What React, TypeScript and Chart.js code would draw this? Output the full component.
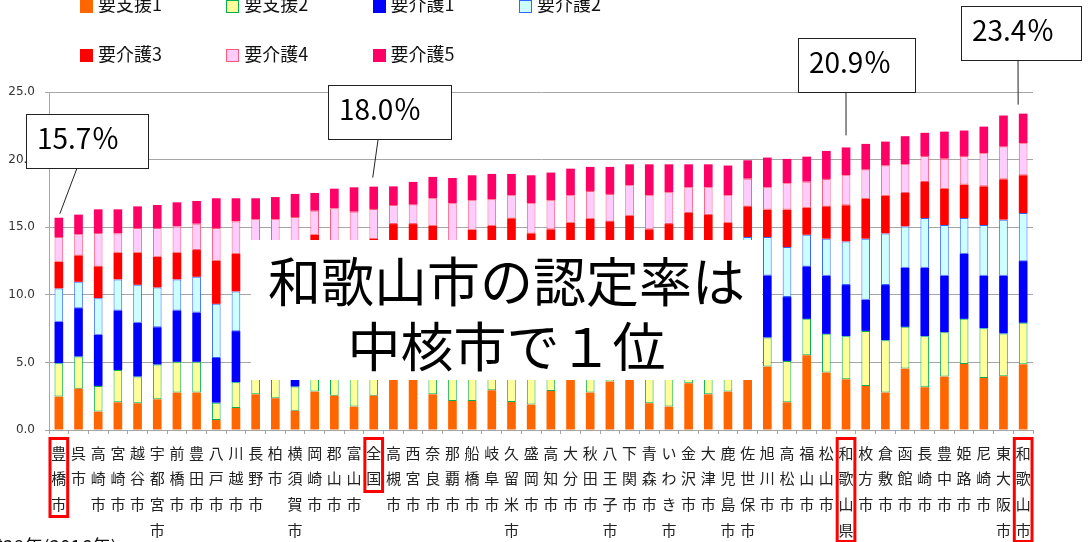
import { useEffect, useRef } from "react";
import { Chart, registerables } from "chart.js";

Chart.register(...registerables);

// 中核市等の要介護（要支援）認定率（％）
const categories: string[] = [
  "豊橋市", "呉市", "高崎市", "宮崎市", "越谷市", "宇都宮市", "前橋市", "豊田市", "八戸市", "川越市",
  "長野市", "柏市", "横須賀市", "岡崎市", "郡山市", "富山市", "全国", "高槻市", "西宮市", "奈良市",
  "那覇市", "船橋市", "岐阜市", "久留米市", "盛岡市", "高知市", "大分市", "秋田市", "八王子市", "下関市",
  "青森市", "いわき市", "金沢市", "大津市", "鹿児島市", "佐世保市", "旭川市", "高松市", "福山市", "松山市",
  "和歌山県", "枚方市", "倉敷市", "函館市", "長崎市", "豊中市", "姫路市", "尼崎市", "東大阪市", "和歌山市",
];

const youShien1: number[] = [
  2.47, 3.06, 1.36, 2.05, 1.98, 2.27, 2.77, 2.77, 0.74, 1.63,
  2.64, 2.35, 1.43, 2.84, 2.54, 1.73, 2.54, 3.90, 4.00, 2.64,
  2.15, 2.15, 2.94, 2.07, 1.88, 2.89, 3.80, 2.77, 3.58, 3.90,
  1.98, 1.73, 3.46, 2.64, 2.84, 4.00, 4.69, 2.05, 5.53, 4.25,
  3.75, 3.26, 2.77, 4.54, 3.16, 3.95, 4.89, 3.85, 3.98, 4.86,
];
const youShien2: number[] = [
  2.47, 2.37, 1.90, 2.39, 1.97, 2.57, 2.27, 2.27, 1.28, 1.90,
  2.30, 2.20, 1.78, 2.10, 2.30, 2.40, 2.50, 2.60, 2.50, 2.30,
  2.30, 2.30, 2.20, 2.60, 2.40, 2.20, 2.40, 2.30, 2.50, 2.40,
  2.40, 2.60, 2.40, 2.50, 2.60, 2.30, 2.15, 3.06, 2.69, 2.86,
  3.19, 4.07, 3.87, 3.09, 3.78, 3.28, 3.33, 3.68, 3.16, 3.07,
];
const youKaigo1: number[] = [
  3.06, 3.58, 3.78, 4.40, 3.98, 2.76, 3.80, 3.65, 3.31, 3.78,
  3.40, 3.60, 4.00, 3.50, 3.60, 3.80, 3.50, 3.00, 3.10, 3.70,
  3.90, 4.00, 3.70, 4.20, 4.10, 3.80, 3.30, 4.00, 3.40, 3.40,
  4.10, 4.30, 3.90, 4.10, 3.90, 4.00, 4.59, 4.72, 3.88, 4.30,
  3.78, 2.30, 4.08, 4.37, 5.06, 4.18, 4.82, 3.88, 4.27, 4.56,
];
const youKaigo2: number[] = [
  2.47, 1.95, 2.71, 2.30, 2.81, 2.94, 2.30, 2.64, 4.00, 2.94,
  2.60, 2.70, 3.10, 2.90, 2.80, 3.00, 3.10, 2.90, 2.90, 3.40,
  3.00, 3.20, 3.20, 3.30, 3.20, 3.10, 3.00, 3.30, 3.00, 3.00,
  3.30, 3.40, 3.10, 3.40, 3.10, 3.97, 2.84, 3.70, 2.34, 2.74,
  3.23, 4.52, 3.82, 3.06, 3.68, 3.75, 2.64, 3.75, 4.15, 3.56,
];
const youKaigo3: number[] = [
  1.97, 1.95, 2.35, 1.97, 2.37, 2.27, 1.97, 1.98, 3.19, 2.79,
  2.30, 2.40, 2.90, 3.10, 2.60, 2.90, 2.51, 2.83, 2.73, 3.07,
  2.50, 3.16, 3.07, 3.48, 2.96, 2.85, 2.83, 3.26, 2.95, 3.15,
  3.06, 3.20, 3.19, 3.29, 2.89, 2.27, 2.03, 2.77, 2.00, 2.39,
  2.67, 2.96, 2.79, 2.47, 2.67, 2.69, 2.47, 2.86, 2.98, 2.79,
];
const youKaigo4: number[] = [
  1.83, 1.56, 2.47, 1.43, 1.83, 2.13, 1.95, 1.95, 2.42, 2.39,
  2.34, 2.33, 2.54, 1.78, 2.56, 2.32, 2.20, 1.41, 1.44, 2.03,
  2.92, 2.18, 1.95, 1.71, 2.23, 2.15, 2.03, 2.05, 2.03, 2.25,
  2.52, 2.35, 1.90, 2.02, 2.03, 2.05, 1.65, 1.95, 1.93, 2.03,
  2.22, 2.15, 2.23, 2.12, 1.92, 2.22, 2.12, 2.45, 2.42, 2.37,
];
const youKaigo5: number[] = [
  1.43, 1.46, 1.75, 1.78, 1.60, 1.70, 1.78, 1.68, 2.20, 1.71,
  1.56, 1.65, 1.71, 1.31, 1.45, 1.80, 1.65, 1.38, 1.68, 1.58,
  1.87, 1.85, 1.88, 1.58, 2.07, 2.05, 1.97, 1.78, 2.00, 1.55,
  2.29, 2.07, 1.70, 1.70, 2.20, 1.36, 2.20, 1.80, 1.85, 2.07,
  2.06, 1.90, 1.77, 2.08, 1.71, 2.00, 1.88, 1.97, 2.30, 2.19,
];

const seriesNames: string[] = ["要支援1", "要支援2", "要介護1", "要介護2", "要介護3", "要介護4", "要介護5"];
const seriesValues: number[][] = [youShien1, youShien2, youKaigo1, youKaigo2, youKaigo3, youKaigo4, youKaigo5];
const fillColors: string[] = ["#FF6600", "#FFFF99", "#0000FF", "#CCFFFF", "#FF0000", "#FFCCFF", "#FF0066"];
const edgeColors: (string | null)[] = [null, "#00B050", null, "#3366FF", null, "#FF5A78", null];

const yTickValues: number[] = [0, 5, 10, 15, 20, 25];

// labels framed in red under the axis
const framedLabels: string[] = ["豊橋市", "全国", "和歌山県", "和歌山市"];

// value callouts: [left, top, width, height] of the box and x where its leader leaves the box
const calloutNames: string[] = ["豊橋市", "全国", "和歌山県", "和歌山市"];
const calloutBoxes: number[][] = [
  [26, 114, 123, 55],
  [328, 85, 124, 55],
  [798, 38, 118, 55],
  [961, 6, 121, 55],
];
const calloutLeaderX: number[] = [76.7, 378, 846, 1018];
const calloutLeaderDx: number[] = [1, -1, 0, -5];
const calloutGap: number[] = [4, 9, 12, 9];

const totals: number[] = categories.map((_, i) =>
  seriesValues.reduce((s, arr) => s + arr[i], 0)
);

const FONT_JP = "'Noto Sans CJK JP', 'Noto Sans', sans-serif";

const annotate = {
  id: "annotate",
  afterDraw(chart: any) {
    const ctx: CanvasRenderingContext2D = chart.ctx;
    const xs = chart.scales.x;
    const ys = chart.scales.y;
    ctx.save();

    // red frames around selected category labels
    ctx.strokeStyle = "#FF0000";
    ctx.lineWidth = 3;
    framedLabels.forEach((name) => {
      const i = categories.indexOf(name);
      const cx = xs.getPixelForValue(i);
      const rows = Array.from(name).length;
      ctx.strokeRect(cx - 8.85, xs.top + 8.5, 17.7, rows * 25 + 3);
    });

    // callout boxes with leader lines to the bar tops
    calloutNames.forEach((name, k) => {
      const i = categories.indexOf(name);
      const [bx, by, bw, bh] = calloutBoxes[k];
      const tx = xs.getPixelForValue(i) + calloutLeaderDx[k];
      const ty = ys.getPixelForValue(totals[i]) - calloutGap[k];
      ctx.strokeStyle = "#222";
      ctx.lineWidth = 1;
      ctx.beginPath();
      ctx.moveTo(calloutLeaderX[k], by + bh);
      ctx.lineTo(tx, ty);
      ctx.stroke();
      ctx.fillStyle = "#FFFFFF";
      ctx.fillRect(bx, by, bw, bh);
      ctx.strokeRect(bx + 0.5, by + 0.5, bw - 1, bh - 1);
      ctx.fillStyle = "#000";
      ctx.font = `28px ${FONT_JP}`;
      ctx.textBaseline = "alphabetic";
      ctx.textAlign = "left";
      ctx.fillText(totals[i].toFixed(1) + "％", bx + 11, by + 35);
    });
    ctx.restore();
  },
};

export default function App() {
  const canvasRef = useRef<HTMLCanvasElement>(null);

  useEffect(() => {
    const datasets = seriesNames.map((name, k) => ({
      label: name,
      data: seriesValues[k],
      backgroundColor: fillColors[k],
      borderColor: edgeColors[k] ?? fillColors[k],
      borderWidth: edgeColors[k] ? 1 : 0,
      borderSkipped: false as const,
      barPercentage: 0.44,
      categoryPercentage: 1,
    }));

    const chart = new Chart(canvasRef.current!, {
      type: "bar",
      data: {
        labels: categories.map((c) => Array.from(c)),
        datasets,
      },
      options: {
        animation: false,
        responsive: false,
        maintainAspectRatio: false,
        layout: { padding: { top: 92, right: 55, left: 0, bottom: 0 } },
        plugins: {
          legend: { display: false },
          tooltip: { enabled: false },
        },
        scales: {
          x: {
            stacked: true,
            offset: true,
            grid: {
              offset: true,
              drawOnChartArea: false,
              drawTicks: true,
              tickLength: 4,
              color: "#A6A6A6",
            },
            border: { color: "#A6A6A6", width: 1 },
            ticks: {
              autoSkip: false,
              maxRotation: 0,
              minRotation: 0,
              padding: 6,
              color: "#222",
              font: { family: FONT_JP, size: 15, lineHeight: 25.7 / 15 },
            },
            afterFit(scale: any) {
              scale.height = 112;
            },
          },
          y: {
            stacked: true,
            min: 0,
            max: 25,
            afterBuildTicks(scale: any) {
              scale.ticks = yTickValues.map((v) => ({ value: v }));
            },
            grid: { color: "#A6A6A6", tickLength: 4 },
            border: { color: "#A6A6A6", width: 1 },
            ticks: {
              padding: 10,
              color: "#333",
              font: { family: "'DejaVu Sans', sans-serif", size: 12 },
              callback: (v: any) => Number(v).toFixed(1),
            },
            afterFit(scale: any) {
              scale.width = 49;
            },
          },
        },
      },
      plugins: [annotate],
    });
    return () => chart.destroy();
  }, []);

  return (
    <div
      style={{
        position: "fixed",
        left: 0,
        top: 0,
        width: 1088,
        height: 542,
        overflow: "hidden",
        background: "#fff",
      }}
    >
      <canvas
        ref={canvasRef}
        width={1088}
        height={542}
        style={{ position: "absolute", left: 0, top: 0, width: 1088, height: 542 }}
      />

      {seriesNames.map((name, k) => {
        const col = k % 4;
        const row = Math.floor(k / 4);
        const left = 80 + col * 146.3;
        const top = row * 49.3;
        return (
          <div key={name}>
            <div
              style={{
                position: "absolute",
                left,
                top,
                width: 13,
                height: 13,
                boxSizing: "border-box",
                background: fillColors[k],
                border: edgeColors[k] ? `1.5px solid ${edgeColors[k]}` : "none",
              }}
            />
            <div
              style={{
                position: "absolute",
                left: left + 18,
                top: top - 5.8,
                fontFamily: FONT_JP,
                fontSize: 18,
                lineHeight: "18px",
                color: "#111",
                whiteSpace: "nowrap",
              }}
            >
              {name}
            </div>
          </div>
        );
      })}

      <div
        style={{
          position: "absolute",
          left: 251,
          top: 240,
          width: 511,
          height: 140,
          background: "#fff",
        }}
      >
        <div
          style={{
            position: "absolute",
            left: 0,
            top: 7,
            width: 511,
            textAlign: "center",
            fontFamily: FONT_JP,
            fontSize: 53,
            lineHeight: "65px",
            color: "#000",
            whiteSpace: "nowrap",
          }}
        >
          <div>和歌山市の認定率は</div>
          <div>中核市で１位</div>
        </div>
      </div>

      <div
        style={{
          position: "absolute",
          left: -35,
          top: 536,
          fontFamily: FONT_JP,
          fontSize: 19,
          lineHeight: "19px",
          color: "#111",
          whiteSpace: "nowrap",
        }}
      >
        平成28年(2016年)
      </div>
    </div>
  );
}
